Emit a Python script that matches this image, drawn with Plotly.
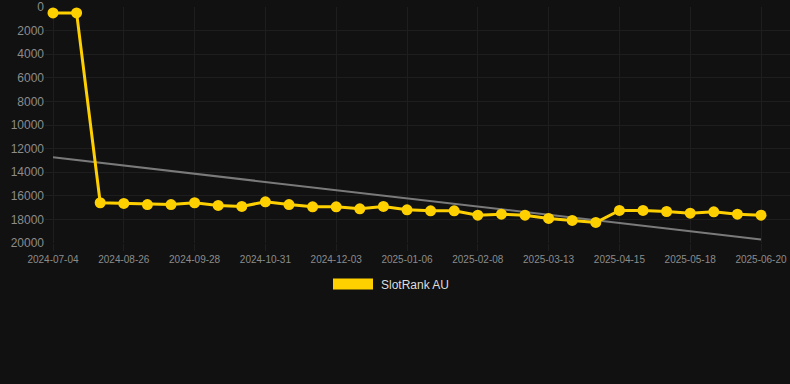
import plotly.graph_objects as go

# ---- data ----
dates = [
    "2024-07-04", "2024-07-15", "2024-08-15", "2024-08-26", "2024-09-06", "2024-09-17",
    "2024-09-28", "2024-10-09", "2024-10-20", "2024-10-31", "2024-11-11", "2024-11-22",
    "2024-12-03", "2024-12-14", "2024-12-25", "2025-01-06", "2025-01-17", "2025-01-28",
    "2025-02-08", "2025-02-19", "2025-03-02", "2025-03-13", "2025-03-24", "2025-04-04",
    "2025-04-15", "2025-04-26", "2025-05-07", "2025-05-18", "2025-05-29", "2025-06-09",
    "2025-06-20",
]
rank_au = [
    500, 500, 16590, 16650, 16740, 16740,
    16590, 16820, 16900, 16510, 16740, 16930,
    16930, 17100, 16900, 17190, 17270, 17270,
    17640, 17560, 17640, 17920, 18090, 18260,
    17240, 17240, 17330, 17470, 17360, 17560,
    17640,
]
trend_dates = [dates[0], dates[-1]]
trend_values = [12740, 19700]
tick_labels = dates[::3]
y_ticks = [0, 2000, 4000, 6000, 8000, 10000, 12000, 14000, 16000, 18000, 20000]
y_tick_text = [str(v) for v in y_ticks]
series_name = "SlotRank AU"

# ---- style ----
W, H = 790, 384
ML, MR, MT, MB = 45, 0, 7, 141
BG = "#111111"
GRID = "#1e1e1e"
YELLOW = "#FFD000"

fig = go.Figure()
fig.add_trace(go.Scatter(
    x=trend_dates, y=trend_values, mode="lines",
    line=dict(color="#7a7a7a", width=2), hoverinfo="skip", showlegend=False,
))
fig.add_trace(go.Scatter(
    x=dates, y=rank_au, mode="lines+markers", name=series_name,
    line=dict(color=YELLOW, width=3),
    marker=dict(color=YELLOW, size=11),
    cliponaxis=False, showlegend=False,
))

pw = W - ML - MR
ph = H - MT - MB
px_per_cat = 708 / 30
x0 = -8 / px_per_cat
x1 = x0 + pw / px_per_cat

fig.update_layout(
    width=W, height=H,
    margin=dict(l=ML, r=MR, t=MT, b=MB),
    paper_bgcolor=BG, plot_bgcolor=BG,
    font=dict(family="Liberation Sans, Arial, sans-serif", color="#8c8c8c"),
    xaxis=dict(
        type="category", categoryorder="array", categoryarray=dates,
        range=[x0, x1], tickmode="array", tickvals=tick_labels, ticktext=tick_labels,
        tickangle=0, tickfont=dict(size=10, color="#8c8c8c"),
        showgrid=True, gridcolor=GRID, gridwidth=1,
        ticks="outside", ticklen=7, tickcolor=GRID,
        showline=False, zeroline=False,
    ),
    yaxis=dict(
        range=[20000, 0], tickmode="array", tickvals=y_ticks, ticktext=y_tick_text,
        tickfont=dict(size=12, color="#8c8c8c"),
        showgrid=True, gridcolor=GRID, gridwidth=1,
        ticks="", showline=False, zeroline=False,
    ),
    showlegend=False,
)

def px_x(p):
    return (p - ML) / pw

def px_y(p):
    return 1 - (p - MT) / ph

fig.add_shape(type="rect", xref="paper", yref="paper",
              x0=px_x(333), x1=px_x(373), y0=px_y(289.5), y1=px_y(278.5),
              fillcolor=YELLOW, line=dict(width=0))
fig.add_annotation(xref="paper", yref="paper", x=px_x(379), y=px_y(285),
                   text=series_name, showarrow=False, xanchor="left", yanchor="middle",
                   font=dict(size=12, color="#dddddd"))

fig.write_html(
    "out.html",
    config={"displayModeBar": False},
    post_script="document.body.style.margin='0';document.body.style.overflow='hidden';document.body.style.background='#111111';",
)
